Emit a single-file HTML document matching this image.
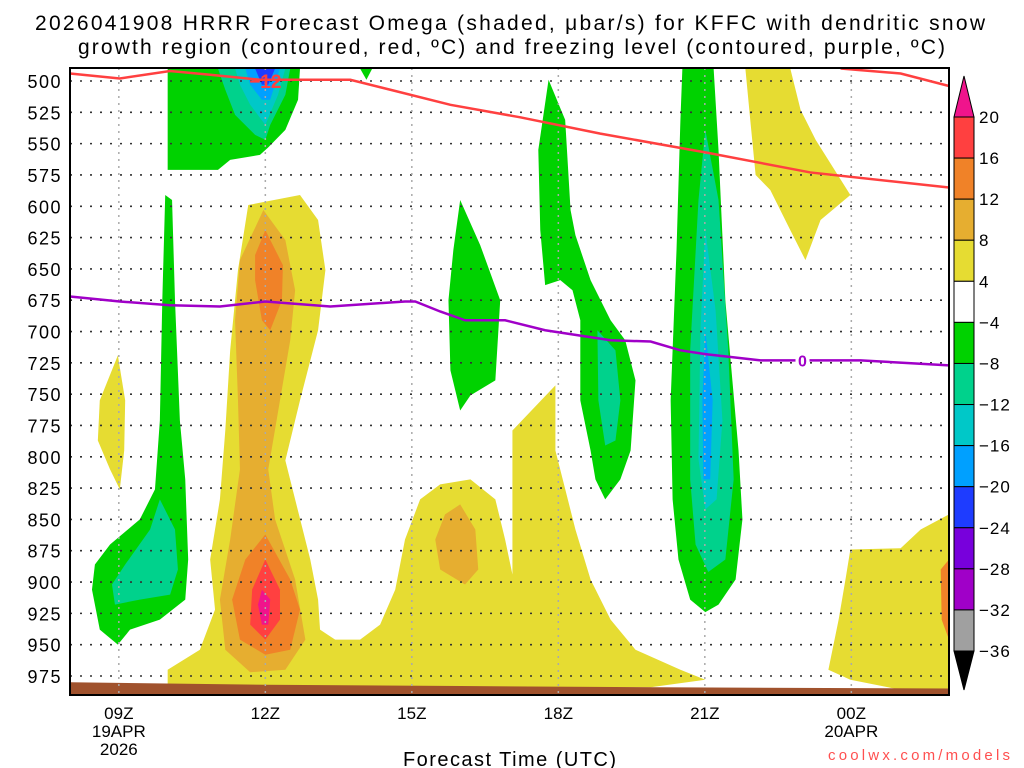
<!DOCTYPE html>
<html><head><meta charset="utf-8"><style>
html,body{margin:0;padding:0;background:#fff;}
svg{display:block;font-family:"Liberation Sans",sans-serif;}
</style></head><body>
<svg id="chart" width="1024" height="768" viewBox="0 0 1024 768">
<text x="35" y="30" font-size="21" textLength="950" lengthAdjust="spacing">2026041908 HRRR Forecast Omega (shaded, μbar/s) for KFFC with dendritic snow</text>
<text x="78" y="54" font-size="21" textLength="867" lengthAdjust="spacing">growth region (contoured, red, ºC) and freezing level (contoured, purple, ºC)</text>
<g id="fills"></g>
<g id="grid"></g>
<g id="lines"></g>
<g id="axes"></g>
<g id="cbar"></g>
<text x="403" y="766" font-size="20" textLength="213" lengthAdjust="spacing">Forecast Time (UTC)</text>
<text x="828" y="760" font-size="15" textLength="182" lengthAdjust="spacing" fill="#ff5050">coolwx.com/models</text>
</svg>
<script>
// x: hours since 08Z 19APR ; y: pressure hPa
const levels = [500,525,550,575,600,625,650,675,700,725,750,775,800,825,850,875,900,925,950,975];
const timeTicks = [1,4,7,10,13,16];
const timeLabels = [["09Z","19APR","2026"],["12Z"],["15Z"],["18Z"],["21Z"],["00Z","20APR"]];
const cbarLabels = ["20","16","12","8","4","−4","−8","−12","−16","−20","−24","−28","−32","−36"];
const cbarColors = ["#ff4040","#f08228","#e6ae30","#e6dc32","#ffffff","#00d200","#00d28c","#00c8c8","#00a0ff","#1e3cff","#7800dc","#a000c8","#a0a0a0"];
const Y="#e6dc32",DY="#e6ae30",OR="#f08228",RD="#ff4040",PK="#f0148c",GR="#00d200",TG="#00d28c",CY="#00c8c8",LB="#00a0ff",BL="#1e3cff";
const shadeColors = [GR,TG,CY,LB,BL,GR, GR,TG, Y, Y,DY,OR,OR,RD,PK,DY, GR, GR,TG, GR,TG,CY,LB, Y, Y,OR];
const shadePolys = [
 [[2,490],[4.71,490],[4.67,515],[4.41,539],[4.06,553],[3.89,559],[3.28,563],[3.03,571],[2,571]],
 [[3.03,490],[4.51,490],[4.41,511],[4.1,535],[4,547],[3.79,543],[3.38,527],[3.18,507]],
 [[3.38,490],[4.41,490],[4.26,511],[4,535],[3.69,519],[3.48,503]],
 [[3.59,490],[4.3,490],[4.1,515],[3.93,515],[3.69,503]],
 [[3.79,490],[4.2,490],[4.06,503],[3.93,503]],
 [[5.94,490],[6.19,490],[6.07,499]],
 [[1.95,591],[2.09,595],[2.15,675],[2.25,771],[2.36,818],[2.42,882],[2.36,914],[1.84,930],[1.23,938],[0.98,950],[0.61,938],[0.45,906],[0.51,886],[0.82,870],[1.43,850],[1.74,826],[1.84,771],[1.89,675]],
 [[1.84,834],[2.15,858],[2.21,890],[2.05,910],[1.43,914],[0.92,918],[0.86,902],[1.13,886],[1.64,858]],
 [[0.98,719],[1.13,755],[1.11,795],[1.02,826],[0.82,810],[0.57,787],[0.61,755]],
 [[3.65,599],[4.71,591],[5.08,611],[5.23,651],[5.08,699],[4.71,755],[4.41,803],[4.61,834],[4.92,882],[5.08,914],[5.12,938],[5.43,946],[5.94,946],[6.35,934],[6.66,906],[6.86,866],[7.17,834],[7.58,822],[8.2,818],[8.71,834],[8.91,866],[9.06,894],[9.06,779],[9.94,743],[9.94,795],[10.35,858],[10.66,898],[11.07,930],[11.58,954],[12.5,970],[13.01,978],[11.89,984],[7.79,984],[2,984],[2,970],[2.66,954],[2.97,922],[2.87,882],[3.07,834],[3.18,779],[3.28,715],[3.44,651]],
 [[3.96,603],[4.41,627],[4.61,667],[4.51,707],[4.3,755],[4.06,810],[4.2,850],[4.61,898],[4.82,946],[4.41,970],[3.69,972],[3.18,954],[3.07,914],[3.28,866],[3.48,810],[3.44,755],[3.38,691],[3.48,643]],
 [[4,619],[4.36,647],[4.34,675],[4.1,699],[3.93,691],[3.79,659],[3.79,639]],
 [[4,862],[4.51,898],[4.71,922],[4.51,954],[4,958],[3.48,946],[3.32,914],[3.59,882]],
 [[4,882],[4.3,906],[4.3,930],[4,946],[3.69,934],[3.73,906]],
 [[3.93,906],[4.1,914],[4.06,934],[3.93,934],[3.85,918]],
 [[7.99,838],[8.3,858],[8.36,890],[8.09,902],[7.58,890],[7.48,866],[7.68,846]],
 [[7.99,595],[8.4,631],[8.81,675],[8.71,739],[8.2,751],[7.99,763],[7.79,731],[7.75,675],[7.85,635]],
 [[9.8,499],[10.14,531],[10.25,603],[10.35,623],[10.66,659],[11.07,691],[11.37,707],[11.58,739],[11.48,795],[11.27,818],[10.96,834],[10.76,818],[10.66,795],[10.45,755],[10.45,691],[10.29,667],[10.04,659],[9.73,663],[9.63,619],[9.59,555]],
 [[10.8,699],[11.17,715],[11.27,755],[11.17,787],[10.96,791],[10.82,755]],
 [[12.54,490],[13.18,490],[13.28,555],[13.42,675],[13.69,795],[13.77,850],[13.63,898],[13.28,918],[13.01,924],[12.7,914],[12.46,882],[12.34,834],[12.3,755],[12.42,635],[12.5,531]],
 [[13.01,539],[13.28,595],[13.48,715],[13.59,818],[13.42,882],[13.07,892],[12.81,870],[12.7,818],[12.7,715],[12.87,595]],
 [[13.01,619],[13.22,683],[13.36,771],[13.24,834],[13.01,842],[12.87,802],[12.91,699]],
 [[13.01,699],[13.16,755],[13.11,818],[12.97,818],[12.95,755]],
 [[13.83,490],[14.75,490],[14.96,523],[15.27,547],[15.98,591],[15.37,611],[15.06,643],[14.75,619],[14.34,587],[14.04,575],[13.93,531]],
 [[15.98,874],[17.01,873],[17.42,858],[18,846],[18,986],[17.01,986],[15.98,978],[15.53,970],[15.74,930],[15.88,898]],
 [[17.83,890],[18,882],[18,946],[17.85,930]]
];
const groundLine = [[0,980],[4,982],[8,983],[12,984],[18,985]];
const dgzLine1 = [[0,494],[1.02,498],[2.05,492],[2.87,495],[3.89,499],[5.74,499],[6.56,507],[7.79,519],[9.22,529],[10.86,542],[13.01,557],[15.16,573],[18,585]];
const dgzLine2 = [[15.78,490],[17.01,494],[18,504]];
const frzLine = [[0,672],[1.02,676],[2.05,679],[3.07,680],[4,676],[5.33,680],[6.86,676],[7.07,676],[7.58,684],[8.09,691],[8.91,691],[9.73,699],[11.07,707],[11.89,708],[12.5,715],[13.01,718],[14.14,723],[16.19,723],[18,727]];

const X0=70,X1=949,Y0=68,Y1=695;
const xs=h=>X0+(h/18)*(X1-X0);
const ys=p=>81+(p-500)*(676-81)/475;
const NS="http://www.w3.org/2000/svg";
function mk(tag,attrs,parent){const e=document.createElementNS(NS,tag);for(const k in attrs)e.setAttribute(k,attrs[k]);parent.appendChild(e);return e;}
const clamp=p=>[Math.max(X0,Math.min(X1,xs(p[0]))),Math.max(Y0,Math.min(Y1,ys(p[1])))];
const pts=a=>a.map(p=>clamp(p).join(",")).join(" ");

const fills=document.getElementById("fills");
shadePolys.forEach((poly,i)=>{
 const e=mk("polygon",{points:pts(poly),fill:shadeColors[i]},fills);
 
 
});
const g=mk("polygon",{points:pts(groundLine.concat([[18,995],[0,995]])),fill:"#a0522d"},fills);



const grid=document.getElementById("grid");
levels.forEach(p=>{const l=mk("line",{x1:X0,x2:X1,y1:ys(p),y2:ys(p),stroke:"#333","stroke-width":1.6,"stroke-dasharray":"2,8"},grid);
 
 });
timeTicks.forEach(h=>{const l=mk("line",{x1:xs(h),x2:xs(h),y1:Y0,y2:Y1,stroke:"#aaa","stroke-width":1.5,"stroke-dasharray":"2,5"},grid);
 
 });

const lines=document.getElementById("lines");
[dgzLine1,dgzLine2].forEach(a=>{const l=mk("polyline",{points:pts(a),fill:"none",stroke:"#ff4040","stroke-width":2.5},lines);
 
 });
const fl=mk("polyline",{points:pts(frzLine),fill:"none",stroke:"#a000c8","stroke-width":2.5},lines);


let bg=mk("rect",{x:xs(4)-18,y:ys(500)-8,width:36,height:16,fill:"#fff","fill-opacity":"0.0"},lines);
let t=mk("text",{x:xs(4),y:ys(500)+7,"text-anchor":"middle","font-size":19,"font-weight":"bold",fill:"#ff4040"},lines);t.textContent="−12";


bg=mk("rect",{x:xs(15)-7,y:ys(723)-7,width:14,height:14,fill:"#fff"},lines);


t=mk("text",{x:xs(15),y:ys(723)+6,"text-anchor":"middle","font-size":16,"font-weight":"bold",fill:"#a000c8"},lines);t.textContent="0";



const axes=document.getElementById("axes");
const fr=mk("rect",{x:X0,y:Y0,width:X1-X0,height:Y1-Y0,fill:"none",stroke:"#000","stroke-width":2},axes);


levels.forEach(p=>{const tx=mk("text",{x:62,y:ys(p)+7,"text-anchor":"end","font-size":18,"letter-spacing":"1.5"},axes);tx.textContent=p;
 
 });
timeTicks.forEach((h,i)=>{timeLabels[i].forEach((s,j)=>{const tx=mk("text",{x:xs(h),y:719+j*18,"text-anchor":"middle","font-size":17},axes);tx.textContent=s;
 
 });});

const cb=document.getElementById("cbar");
const CX=954,CW=20,CT=117,CB=651,step=(CB-CT)/cbarColors.length;
const up=mk("polygon",{points:`${CX},${CT} ${CX+CW},${CT} ${CX+CW/2},${76}`,fill:PK,stroke:"#000"},cb);


const dn=mk("polygon",{points:`${CX},${CB} ${CX+CW},${CB} ${CX+CW/2},${690}`,fill:"#000",stroke:"#000"},cb);


cbarColors.forEach((c,i)=>{const r=mk("rect",{x:CX,y:CT+i*step,width:CW,height:step,fill:c,stroke:"#000"},cb);
 
 });
cbarLabels.forEach((s,i)=>{const tx=mk("text",{x:979,y:CT+i*step+6,"font-size":17,"letter-spacing":"1"},cb);tx.textContent=s;
 
 });
</script>
</body></html>
